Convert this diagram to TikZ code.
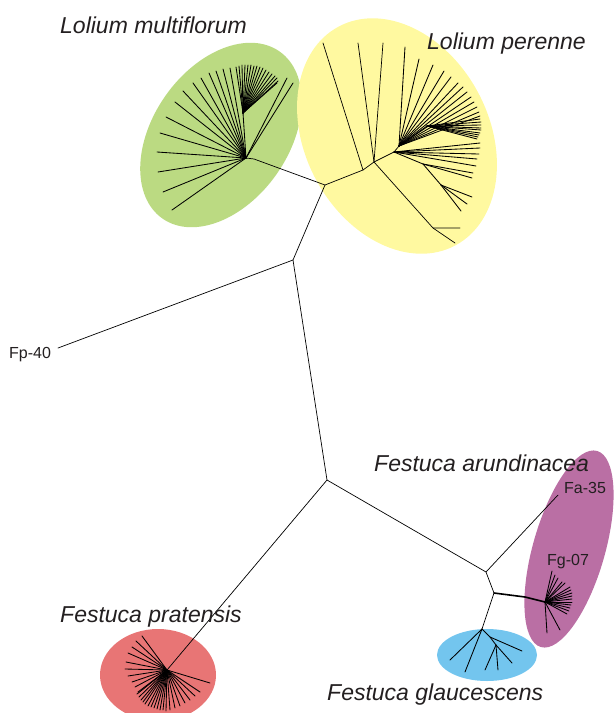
\documentclass[tikz,border=0pt]{standalone}
\usepackage{fontspec}
\setmainfont{Liberation Sans}
\usetikzlibrary{calc}
\definecolor{lmgreen}{HTML}{BBDA82}
\definecolor{lpyellow}{HTML}{FFF9A0}
\definecolor{fapurple}{HTML}{BA6FA4}
\definecolor{fgblue}{HTML}{73C5EE}
\definecolor{fpred}{HTML}{E87575}
\definecolor{txtgray}{HTML}{231F20}
\tikzset{edge/.style={line width=0.7pt,line cap=round},
 leaf/.style={line width=0.85pt,line cap=round},
 species/.style={font=\fontsize{23}{27}\selectfont\itshape,text=txtgray,anchor=base west,inner sep=0pt},
 tiplab/.style={font=\fontsize{16}{19}\selectfont,text=txtgray,anchor=base west,inner sep=0pt}}

\begin{document}
\begin{tikzpicture}[x=1pt,y=-1pt]
\useasboundingbox (0,0) rectangle (614,713);
% clade shading
\fill[lmgreen,rotate around={55:(221,135)}] (221,135) ellipse (102 and 68);
\fill[lpyellow,rotate around={-62:(397,136)}] (397,136) ellipse (124 and 92);
\fill[fapurple,rotate around={74:(569,549)}] (569,549) ellipse (102 and 36);
\fill[fgblue] (487,655) ellipse (50 and 26);
\fill[fpred] (158,675) ellipse (58 and 46);
% backbone
\coordinate (A) at (293,260);
\coordinate (B) at (325,185);
\coordinate (C) at (363,170);
\coordinate (D) at (374,162);
\coordinate (E) at (394,152);
\coordinate (F) at (399,146);
\coordinate (Fd) at (427,126);
\coordinate (E2) at (423,164);
\coordinate (E3) at (441,185);
\coordinate (Dl) at (433,228);
\coordinate (LM) at (246,158);
\coordinate (LMs) at (254,159);
\coordinate (LMd) at (243,113);
\coordinate (G) at (327,480);
\coordinate (FP) at (167,670);
\coordinate (H) at (486,572);
\coordinate (I) at (494,593);
\coordinate (FAi) at (525,597);
\coordinate (FA) at (545,602);
\coordinate (FG) at (482,629);
\coordinate (FGs) at (490,637);
\coordinate (FGt) at (496,645);
\coordinate (fp40) at (58,348);
\coordinate (fa35) at (558,495);
\draw[edge] (fp40) -- (A) -- (B) -- (C) -- (D) -- (E) -- (F);
\draw[edge] (B) -- (LMs) -- (LM);
\draw[edge] (A) -- (G) -- (FP);
\draw[edge] (G) -- (H) -- (I) -- (FG);
\draw[edge] (H) -- (fa35);
\draw[edge,line width=1.6pt] (I) -- (FAi) -- (FA);
% Lolium multiflorum
\foreach \p in {(172,210),(163,192),(158,172),(157,152),(160,133),(166,117),(175,102),(183,91),(193,83),(201,78),(209,73),(216,71),(223,69),(230,68),(287,78),(293,83),(243,113)}
  \draw[leaf] (LM) -- \p;
\foreach \p in {(236,67),(239,66),(242,65),(245,65),(248,65),(251,65),(254,66),(257,66),(260,67),(263,68),(266,70),(269,72),(272,74),(275,76),(277,78),(278,81),(277,83)}
  \draw[leaf] (LMd) -- \p;
% Lolium perenne
\draw[edge] (C) -- (323,43);
\draw[edge] (D) -- (358,43);
\draw[edge] (D) -- (383,43);
\draw[edge] (D) -- (Dl) -- (460,228);
\draw[edge] (Dl) -- (455,243);
\foreach \p in {(405,47),(419,59),(433,65),(444,71),(451,77),(458,83),(463,87),(467,92),(471,97),(474,102),(477,107),(479,112),(480,116)}
  \draw[leaf] (F) -- \p;
\draw[leaf] (F) -- (Fd);
\foreach \p in {(480,119),(481,122),(481,125),(481,128),(481,130),(480,133),(479,135),(478,137),(477,139)}
  \draw[leaf] (Fd) -- \p;
\foreach \p in {(480,143),(480,148),(479,154),(477,159),(476,166)}
  \draw[leaf] (E) -- \p;
\draw[leaf] (E) -- (E2) -- (E3);
\foreach \p in {(473,173),(472,178)}
  \draw[leaf] (E2) -- \p;
\foreach \p in {(472,197),(467,204),(461,211)}
  \draw[leaf] (E3) -- \p;
% Festuca pratensis
\foreach \p in {(142,636),(136,641),(132,647),(128,653),(126,662),(125,669),(128,676),(132,682),(135,687),(138,692),(210,683),(200,692),(195,696),(190,700),(185,703),(180,706),(175,708),(170,710)}
  \draw[leaf] (FP) -- \p;
\foreach \p in {(137,694),(139,697),(141,700),(143,702),(145,704),(148,706),(151,707),(154,708),(157,709),(160,710),(163,710),(166,711)}
  \draw[leaf] (FP) -- \p;
% Festuca arundinacea
\foreach \p in {(552,571),(555,575),(558,578),(562,582),(565,583),(570,587),(571,590),(572,593),(572,596),(572,599),(572,602),(571,605),(570,608),(569,611),(567,614),(547,633),(560,630)}
  \draw[leaf] (FA) -- \p;
% Festuca glaucescens
\draw[leaf] (FG) -- (450,660);
\draw[leaf] (FG) -- (465,672);
\draw[leaf] (FG) -- (FGs) -- (522,651);
\draw[leaf] (FGs) -- (FGt);
\foreach \p in {(485,670),(498,670),(512,663)}
  \draw[leaf] (FGt) -- \p;
% labels
\node[species] (lmlab) at (60,33) {Lolium multiflorum};
\node[species] (lplab) at (427,49) {Lolium perenne};
\node[species] (falab) at (374,471) {Festuca arundinacea};
\node[species] (fplab) at (60,622) {Festuca pratensis};
\node[species] (fglab) at (327,700) {Festuca glaucescens};
\node[tiplab] (fa35lab) at (564,493) {Fa-35};
\node[tiplab] (fg07lab) at (547,565) {Fg-07};
\node[tiplab] (fp40lab) at (9,358) {Fp-40};
\end{tikzpicture}
\end{document}
